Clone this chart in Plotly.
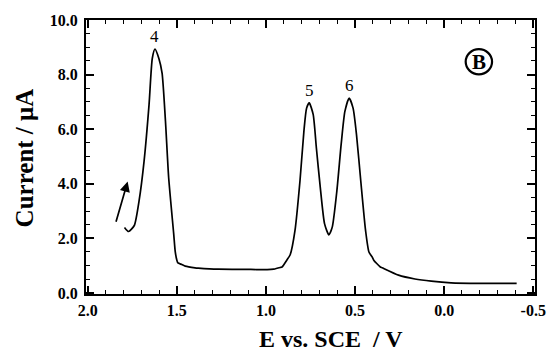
import plotly.graph_objects as go

# Potential (V vs SCE) and current (uA)
E = [1.794, 1.771, 1.739, 1.712, 1.684, 1.656, 1.638, 1.623, 1.601, 1.583,
     1.564, 1.546, 1.518, 1.509, 1.500, 1.494, 1.472, 1.453, 1.398, 1.380,
     1.269, 1.085, 0.993, 0.956, 0.920, 0.910, 0.883, 0.864, 0.837, 0.809,
     0.787, 0.772, 0.757, 0.735, 0.717, 0.695, 0.671, 0.647, 0.628, 0.602,
     0.578, 0.557, 0.533, 0.511, 0.492, 0.468, 0.441, 0.422, 0.404, 0.395,
     0.358, 0.348, 0.256, 0.164, 0.072, -0.039, -0.204, -0.407]
I = [2.40, 2.25, 2.47, 3.38, 4.83, 6.91, 8.59, 8.93, 8.59, 8.05,
     6.29, 4.22, 2.18, 1.50, 1.20, 1.10, 1.04, 0.98, 0.92, 0.91,
     0.87, 0.86, 0.85, 0.87, 0.93, 0.95, 1.20, 1.40, 2.29, 4.11,
     5.93, 6.77, 6.96, 6.54, 5.31, 3.86, 2.53, 2.13, 2.41, 3.74,
     5.44, 6.65, 7.14, 6.77, 5.81, 4.11, 2.29, 1.50, 1.32, 1.20,
     0.95, 0.92, 0.65, 0.51, 0.43, 0.37, 0.35, 0.35]

peak_labels = ["4", "5", "6"]
peak_E = [1.623, 0.756, 0.533]
peak_I = [9.38, 7.40, 7.60]

x_ticks = [2.0, 1.5, 1.0, 0.5, 0.0, -0.5]
x_ticktext = ["2.0", "1.5", "1.0", "0.5", "0.0", "-0.5"]
y_ticks = [0, 2, 4, 6, 8, 10]
y_ticktext = ["0.0", "2.0", "4.0", "6.0", "8.0", "10.0"]

FONT = "Liberation Serif"

fig = go.Figure()
fig.add_trace(go.Scatter(x=E, y=I, mode="lines",
                         line=dict(color="black", width=1.7, shape="spline", smoothing=0.6),
                         hoverinfo="skip", showlegend=False))

for t, xe, yi in zip(peak_labels, peak_E, peak_I):
    fig.add_annotation(x=xe, y=yi, text=t, showarrow=False,
                       font=dict(family=FONT, size=17, color="black"))

# scan direction arrow
fig.add_annotation(x=1.776, y=4.08, ax=1.844, ay=2.55, axref="x", ayref="y",
                   xref="x", yref="y", text="", showarrow=True,
                   arrowhead=2, arrowsize=1.2, arrowwidth=1.7, arrowcolor="black")

# circled B
fig.add_annotation(x=-0.195, y=8.47, text="<b>B</b>", showarrow=False,
                   font=dict(family=FONT, size=21, color="black"))
fig.add_shape(type="circle", xref="x", yref="y",
              x0=-0.195 - 0.074, x1=-0.195 + 0.074, y0=8.47 - 0.46, y1=8.47 + 0.46,
              line=dict(color="black", width=2.2))

# axis titles
fig.add_annotation(xref="paper", yref="paper", x=0.546, y=-0.163,
                   text="<b>E vs. SCE\u00a0\u00a0/ V</b>", showarrow=False,
                   xanchor="center", yanchor="middle",
                   font=dict(family=FONT, size=24, color="black"))
fig.add_annotation(xref="paper", yref="paper", x=-0.138, y=0.495,
                   text="<b>Current / μA</b>", showarrow=False, textangle=-90,
                   xanchor="center", yanchor="middle",
                   font=dict(family=FONT, size=25, color="black"))

axis_common = dict(showline=True, linecolor="black", linewidth=2, mirror="ticks",
                   ticks="inside", ticklen=8, tickwidth=1.5, tickcolor="black",
                   showgrid=False, zeroline=False,
                   tickfont=dict(family=FONT, size=16, color="black"))

fig.update_xaxes(range=[2.01, -0.51], tickvals=x_ticks,
                 ticktext=["<b>%s</b>" % s for s in x_ticktext],
                 ticklabelstandoff=1,
                 minor=dict(ticks="inside", dtick=0.1, ticklen=4, tickwidth=1.2,
                            tickcolor="black"),
                 **axis_common)
fig.update_yaxes(range=[-0.04, 10.0], tickvals=y_ticks,
                 ticktext=["<b>%s</b>" % s for s in y_ticktext],
                 ticklabelstandoff=3,
                 minor=dict(ticks="inside", dtick=0.5, ticklen=4, tickwidth=1.2,
                            tickcolor="black"),
                 **axis_common)

fig.update_layout(width=558, height=351, margin=dict(l=86, r=16, t=18, b=57),
                  plot_bgcolor="white", paper_bgcolor="white")

fig.write_html("out.html", config={"displayModeBar": False},
               post_script="document.body.style.margin='0';document.body.style.overflow='hidden';")
